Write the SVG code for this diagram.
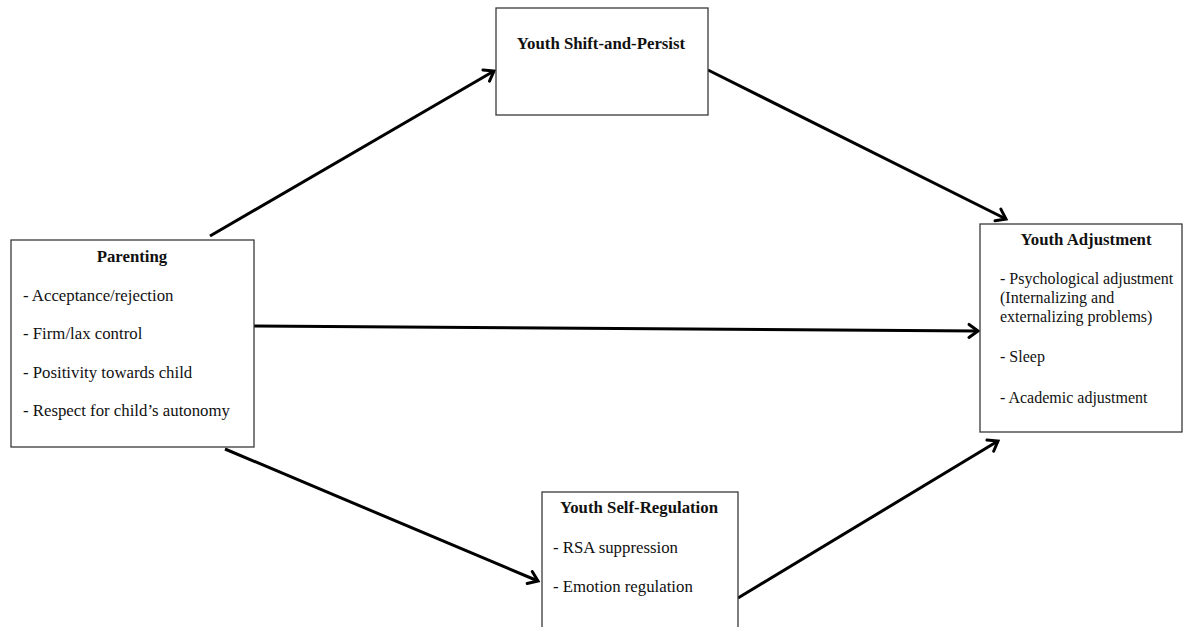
<svg xmlns="http://www.w3.org/2000/svg" width="1183" height="627" viewBox="0 0 1183 627">
<style>
.box{fill:#fff;stroke:#3a3a3a;stroke-width:1.3}
.t{font-family:"Liberation Serif","Times New Roman",serif;font-size:16.8px;fill:#111}
.s{font-size:16px}
.h{font-weight:bold;text-anchor:middle}
.c{stroke:#000;stroke-width:3;fill:none;marker-end:url(#arr)}
</style>
<defs>
<marker id="arr" markerUnits="userSpaceOnUse" markerWidth="16" markerHeight="18" refX="12" refY="8" orient="auto" viewBox="0 0 16 16">
<path d="M3,1.5 L12,8 L3,14.5" fill="none" stroke="#000" stroke-width="3" stroke-linecap="round" stroke-linejoin="miter"/>
</marker>
</defs>
<rect width="1183" height="627" fill="#fff"/>
<g id="connectors">
<line class="c" x1="210" y1="236" x2="494" y2="71"/>
<line class="c" x1="708" y1="70" x2="1006" y2="219"/>
<line class="c" x1="254" y1="326" x2="978" y2="331"/>
<line class="c" x1="225" y1="449" x2="538" y2="581"/>
<line class="c" x1="738" y1="598" x2="998" y2="441"/>
</g>
<g id="parenting">
<rect class="box" x="11" y="240" width="243" height="207"/>
<text class="t h" x="132" y="262">Parenting</text>
<text class="t" x="23" y="301">- Acceptance/rejection</text>
<text class="t" x="23" y="339">- Firm/lax control</text>
<text class="t" x="23" y="378">- Positivity towards child</text>
<text class="t" x="23" y="416">- Respect for child’s autonomy</text>
</g>
<g id="shift-persist">
<rect class="box" x="496" y="8" width="212" height="107"/>
<text class="t h" x="601" y="49">Youth Shift-and-Persist</text>
</g>
<g id="adjustment">
<rect class="box" x="980" y="224" width="202" height="208"/>
<text class="t h" x="1086" y="245">Youth Adjustment</text>
<text class="t s" x="1000" y="284">- Psychological adjustment</text>
<text class="t s" x="1000" y="303">(Internalizing and</text>
<text class="t s" x="1000" y="322">externalizing problems)</text>
<text class="t s" x="1000" y="362">- Sleep</text>
<text class="t s" x="1000" y="403">- Academic adjustment</text>
</g>
<g id="self-regulation">
<rect class="box" x="542" y="492" width="196" height="140"/>
<text class="t h" x="639" y="513">Youth Self-Regulation</text>
<text class="t" x="553" y="553">- RSA suppression</text>
<text class="t" x="553" y="592">- Emotion regulation</text>
</g>
</svg>
